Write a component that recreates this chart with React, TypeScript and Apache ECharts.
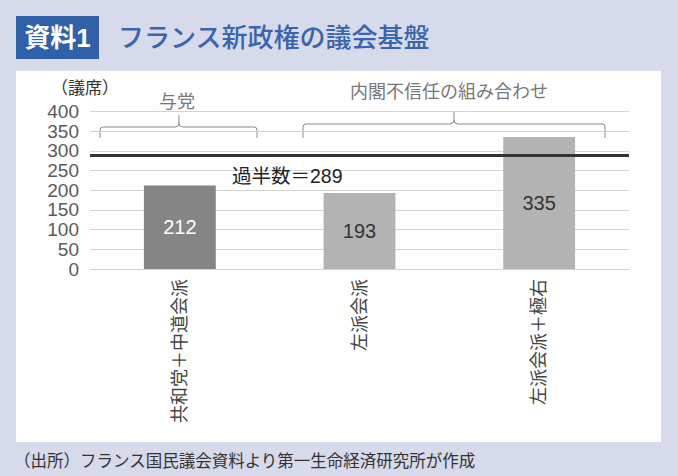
import React, { useEffect, useRef } from "react";
import * as echarts from "echarts";

const categories = ["共和党＋中道会派", "左派会派", "左派会派＋極右"];
const seats = [212, 193, 335];
const barColors = ["#858585", "#b3b3b3", "#b3b3b3"];
const valueLabelColors = ["#ffffff", "#333333", "#333333"];
const majority = 289;
const yMin = 0;
const yMax = 400;
const yInterval = 50;
const groupLabels = ["与党", "内閣不信任の組み合わせ"];
const titleTag = "資料1";
const titleText = "フランス新政権の議会基盤";
const unitLabel = "（議席）";
const majorityLabel = "過半数＝" + majority;
const sourceText = "（出所）フランス国民議会資料より第一生命経済研究所が作成";

const FONT = "'Liberation Sans', 'Noto Sans CJK JP', sans-serif";

let registered = false;
function registerBraces() {
  if (registered) return;
  registered = true;
  echarts.graphic.registerShape(
    "brace1",
    echarts.graphic.extendPath(
      "M100,138 L100,130 Q100,127 103,127 L175,127 Q179,127 179,123 L179,115 M179,123 Q179,127 183,127 L254,127 Q257,127 257,130 L257,138",
      {}
    )
  );
  echarts.graphic.registerShape(
    "brace2",
    echarts.graphic.extendPath(
      "M303,138 L303,127 Q303,124 306,124 L450,124 Q454,124 454,120 L454,111 M454,120 Q454,124 458,124 L602,124 Q605,124 605,127 L605,138",
      {}
    )
  );
}

export default function App() {
  const ref = useRef<HTMLDivElement>(null);
  useEffect(() => {
    if (!ref.current) return;
    registerBraces();
    const chart = echarts.init(ref.current, null, { renderer: "svg" });
    const braceStyle = { stroke: "#8a8a8a", lineWidth: 1, fill: "none" };
    chart.setOption({
      animation: false,
      backgroundColor: "transparent",
      textStyle: { fontFamily: FONT },
      grid: { left: 90, right: 49, top: 111.5, bottom: 207, containLabel: false },
      xAxis: {
        type: "category",
        data: categories,
        axisLine: { show: true, lineStyle: { color: "#d3d3d3", width: 1 } },
        axisTick: { show: false },
        axisLabel: {
          rotate: 90,
          margin: 10,
          fontSize: 18,
          color: "#444",
          fontFamily: FONT,
        },
      },
      yAxis: {
        type: "value",
        min: yMin,
        max: yMax,
        interval: yInterval,
        axisLine: { show: false },
        axisTick: { show: false },
        splitLine: { lineStyle: { color: "#d3d3d3", width: 1 } },
        axisLabel: {
          margin: 11,
          fontSize: 19,
          lineHeight: 18,
          color: "#5a5a5a",
          fontFamily: FONT,
          showMinLabel: true,
          showMaxLabel: true,
          hideOverlap: false,
        },
      },
      series: [
        {
          type: "bar",
          barWidth: "40%",
          data: seats.map((v, i) => ({
            value: v,
            itemStyle: { color: barColors[i] },
            label: { color: valueLabelColors[i] },
          })),
          label: {
            show: true,
            position: "inside",
            fontSize: 20,
            fontFamily: FONT,
          },
          markLine: {
            silent: true,
            symbol: "none",
            label: { show: false },
            lineStyle: { color: "#333", width: 3, type: "solid" },
            data: [{ yAxis: majority }],
          },
        },
      ],
      graphic: [
        {
          type: "rect",
          left: 16,
          top: 16,
          shape: { width: 83, height: 43 },
          style: { fill: "#3060a8" },
        },
        {
          type: "text",
          x: 57.5,
          y: 38,
          style: {
            text: titleTag,
            fill: "#ffffff",
            fontSize: 26,
            fontWeight: "bold",
            fontFamily: FONT,
            align: "center",
            verticalAlign: "middle",
          },
        },
        {
          type: "text",
          x: 118,
          y: 38,
          style: {
            text: titleText,
            fill: "#3a64ac",
            fontSize: 26,
            fontWeight: 500,
            fontFamily: FONT,
            align: "left",
            verticalAlign: "middle",
          },
        },
        {
          type: "text",
          x: 51,
          y: 88,
          style: {
            text: unitLabel,
            fill: "#333",
            fontSize: 17,
            fontFamily: FONT,
            align: "left",
            verticalAlign: "middle",
          },
        },
        {
          type: "text",
          x: 177,
          y: 101.5,
          style: {
            text: groupLabels[0],
            fill: "#777",
            fontSize: 18,
            fontFamily: FONT,
            align: "center",
            verticalAlign: "middle",
          },
        },
        {
          type: "text",
          x: 449,
          y: 92,
          style: {
            text: groupLabels[1],
            fill: "#777",
            fontSize: 18,
            fontFamily: FONT,
            align: "center",
            verticalAlign: "middle",
          },
        },
        { type: "brace1", x: 0, y: 0, style: braceStyle },
        { type: "brace2", x: 0, y: 0, style: braceStyle },
        {
          type: "text",
          x: 232,
          y: 175.5,
          z: 10,
          style: {
            text: majorityLabel,
            fill: "#222",
            fontSize: 19.5,
            fontFamily: FONT,
            align: "left",
            verticalAlign: "middle",
          },
        },
        {
          type: "text",
          x: 14,
          y: 461,
          style: {
            text: sourceText,
            fill: "#333",
            fontSize: 16.5,
            fontFamily: FONT,
            align: "left",
            verticalAlign: "middle",
          },
        },
      ],
    });
    return () => chart.dispose();
  }, []);

  return (
    <div
      style={{
        position: "fixed",
        left: 0,
        top: 0,
        width: 678,
        height: 476,
        background: "#d7daeb",
      }}
    >
      <div
        style={{
          position: "absolute",
          left: 16,
          top: 71,
          width: 645,
          height: 371,
          background: "#ffffff",
        }}
      />
      <div
        ref={ref}
        style={{ position: "absolute", left: 0, top: 0, width: 678, height: 476 }}
      />
    </div>
  );
}
